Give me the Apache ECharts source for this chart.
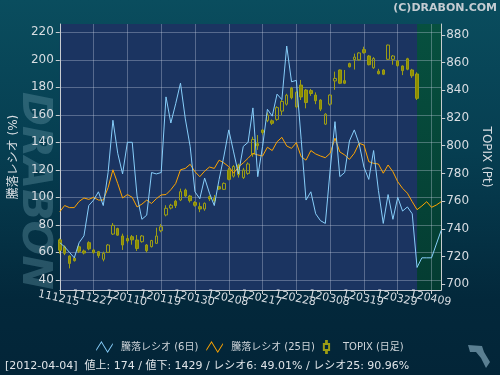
<!DOCTYPE html>
<html><head><meta charset="utf-8">
<script src="https://cdn.jsdelivr.net/npm/echarts@6/dist/echarts.min.js"></script>
<style>html,body{margin:0;padding:0;background:#042a3c}#c{width:500px;height:375px}</style>
</head><body><div id="c"></div>
<script>
const dates = ['111215','111216','111219','111220','111221','111222','111226','111227','111228','111229','111230',
'120104','120105','120106','120110','120111','120112','120113','120116','120117','120118','120119','120120','120123','120124','120125','120126','120127','120130','120131',
'120201','120202','120203','120206','120207','120208','120209','120210','120213','120214','120215','120216','120217','120220','120221','120222','120223','120224','120227','120228','120229',
'120301','120302','120305','120306','120307','120308','120309','120312','120313','120314','120315','120316','120319','120321','120322','120323','120326','120327','120328','120329','120330',
'120402','120403','120404','120405','120406','120409','120410','120411'];

const ratio6 = [67,64,60,56,67,72,94,98,104,94, 118,156,132,117,140,140,101,84,87,118,
 117,118,173,154,168,183,157,137,104,99, 114,103,94,113,130,149,133,117,137,140,
 165,115,137,164,159,175,171,210,184,185, 142,98,104,88,83,81,120,155,115,118,
 141,149,139,122,113,134,105,81,102,84, 100,90,93,88,49,56,56,56,66,76];

const ratio25 = [89.5,94,92.5,92.5,97,99.5,98.5,100,98,98,
 107,120,110,99.5,102,100,93,95,98,95.5,
 99,101.7,102,105.5,110,120,121,124,118.6,115,
 119,122,121,127,125,122.3,117.5,122,125,128.4,
 132,130.8,130,136.4,134,140.4,143.6,137.3,135.6,139.7,
 129.5,127,134,131.5,130,128.8,132,143,133,130.8,
 127.6,132,139.3,138,125.9,124.7,124.2,117.5,123.5,118.6,
 111.3,106.5,103,96.8,91,93.7,96.8,92.7,94.4,96.8];

// TOPIX daily: [open, close, low, high]
const topix = [
 [732,724.5,722,733],[727,722.3,721,728],[720.3,715,711.4,720.8],[718.8,717,716.3,719.5],[727,723.8,722.5,728.5],
 [724,722.5,721.5,725],[730,725.5,724.5,731],[724.7,722.8,722,725.5],[723.5,720.6,719,724],[718,722.3,716.5,723.5],
 [723,728.3,722.5,729],[736.2,742.5,735.5,744.2],[740.2,735.4,735,740.8],[734.8,728.3,724.7,736.5],[733,731.2,729.5,735.5],
 [734.3,732,728.5,735.5],[731.9,725.8,724,735.5],[730.7,734.8,730,735.5],[728.3,724.2,723,729],[727.1,731.5,726.5,732],
 [729.5,734.8,729,740.8],[738.6,741.5,737.5,743.4],[750,754.8,749,757],[755,757,754,758],[760,756.7,755,761],
 [760.8,766.8,760,769],[768,763.7,763,769],[763.7,760.3,759,764.5],[759,757,756,760],[756,754.3,752,759],
 [754.3,758.4,753,759],[763.2,761.5,760,764],[762,760.3,758.4,764.4],[770.4,768.7,768,771],[768.5,772.8,768,773.5],
 [782.5,775.7,775,784],[778,785,777,786],[786,779,777,787],[777,782.5,776,784],[780,786.8,779,788],
 [794,804.5,792,806.5],[801.5,800,797,807.7],[811.3,809.5,808,812],[818.3,822.2,817,824],[818,816.2,815,819],
 [819,827.5,818,828.5],[825,832,822,833],[830,836.5,829,837.5],[841.6,834.6,833.5,842.5],[828,838.6,827,839.5],
 [843.8,835.2,833,847.5],[840.2,831.2,827,841],[839.8,837.7,836,841],[836.6,832.5,830,838.5],[833,826.4,825,833.5],
 [815.6,822.8,815,823.5],[830,836.6,829,837],[846.8,848.6,840.4,853.5],[854.7,845.1,844.5,855],[847,845.1,844.5,854.7],
 [859.3,857,856.5,860],[862.2,864,855,866.5],[862,867,861.5,867.5],[869.4,867.2,866.5,871.5],[864.8,858.5,858,865.5],
 [856.3,863,855.5,864],[853.8,852,851.5,855.5],[854.7,851.6,851,855.3],[862.4,872.7,862,873],[862.4,864.8,858.5,865.5],
 [861.2,857.8,857,861.8],[857.6,854.2,851,858],[862.8,855.2,854.5,863.5],[854.7,850.5,849,855.5],[851.8,834.2,833,853]
];

const leftTicks = [40,60,80,100,120,140,160,180,200,220];
const rightTicks = [700,720,740,760,780,800,820,840,860,880];
const labelStep = 7;
const zoneStart = '120404';
const zoneEnd = '120411';
const footer = '[2012-04-04]  値上: 174 / 値下: 1429 / レシオ6: 49.01% / レシオ25: 90.96%';

const chart = echarts.init(document.getElementById('c'));
const txt = '#d8dde2';
const F = 'DejaVu Sans, Noto Sans CJK JP, sans-serif';
const xLabelBase = {rotate:-12, align:'center', verticalAlign:'top', margin:3, color:txt, fontSize:11, fontFamily:F, hideOverlap:false};
chart.setOption({
  animation: false,
  backgroundColor: new echarts.graphic.LinearGradient(0,0,0,1,[
    {offset:0,color:'#0a4d5e'},{offset:0.4,color:'#063e51'},{offset:0.8,color:'#03283b'},{offset:1,color:'#032538'}]),
  textStyle: {fontFamily: F},
  grid: {left:56, right:52, top:24, bottom:85, show:true, backgroundColor:'#1b3461', borderWidth:0},
  legend: {
    top: 335, left: 'center', itemGap: 8, itemWidth: 17, itemHeight: 12,
    textStyle: {color: '#cfd5da', fontSize: 10, fontFamily: F, padding:[0,0,0,3]},
    data: [
      {name:'騰落レシオ (6日)', icon:'path://M0,8 L5,0 L11,10 L16,2 L16,3.6 L11,11.6 L5,1.6 L0,9.6 Z'},
      {name:'騰落レシオ (25日)', icon:'path://M0,8 L5,0 L11,10 L16,2 L16,3.6 L11,11.6 L5,1.6 L0,9.6 Z'},
      {name:'TOPIX (日足)', icon:'path://M3,0 L4,0 L4,4 L7,4 L7,12 L4,12 L4,16 L3,16 L3,12 L0,12 L0,4 L3,4 Z'}
    ]
  },
  xAxis: [{
    type:'category', data: dates, boundaryGap:false, z:2, position:'bottom',
    axisLine:{lineStyle:{color:'#c8ccd0', width:1}},
    axisTick:{interval:labelStep-1, length:4, lineStyle:{color:'#c8ccd0'}},
    axisLabel:Object.assign({interval:(i)=> i % (labelStep*2) === 0}, xLabelBase),
    splitLine:{show:true, interval:labelStep-1, lineStyle:{color:'rgba(200,210,225,0.35)', width:1}}
  },{
    type:'category', data: dates, boundaryGap:false, z:2, position:'bottom',
    axisLine:{show:false}, axisTick:{show:false}, splitLine:{show:false},
    axisLabel:Object.assign({interval:(i)=> i % (labelStep*2) === labelStep}, xLabelBase)
  }],
  yAxis: [{
    type:'value', min:32.6, max:226, position:'left', z:2,
    name:'騰落レシオ (%)', nameLocation:'middle', nameGap:36,
    nameTextStyle:{color:txt, fontSize:12, fontFamily:F},
    axisLine:{show:true, lineStyle:{color:'#c8ccd0'}},
    axisTick:{show:true, length:4, customValues: leftTicks, lineStyle:{color:'#c8ccd0'}},
    axisLabel:{customValues: leftTicks, color:txt, fontSize:12, margin:6, fontFamily:F},
    splitLine:{show:true, lineStyle:{color:'rgba(200,210,225,0.35)', width:1}}
  },{
    type:'value', min:695.8, max:887.9, position:'right', z:2,
    name:'TOPIX (Pt)', nameLocation:'middle', nameGap:32, nameRotate:-90,
    nameTextStyle:{color:txt, fontSize:12, fontFamily:F},
    axisLine:{show:true, lineStyle:{color:'#c8ccd0'}},
    axisTick:{show:true, length:4, customValues: rightTicks, lineStyle:{color:'#c8ccd0'}},
    axisLabel:{customValues: rightTicks, color:txt, fontSize:12, margin:5, fontFamily:F},
    splitLine:{show:false}
  }],
  graphic: [
    {type:'text', right:3, top:3, style:{text:'(C)DRABON.COM', fill:'#c4ccd2', font:'bold 11px DejaVu Sans'}},
    {type:'text', x:13, y:92, rotation:-Math.PI/2, originX:0, originY:0, z:-1,
      style:{text:'DRABON', fill:'rgba(100,150,165,0.38)', font:'italic bold 41px DejaVu Sans', x:0, y:0, textAlign:'left', textVerticalAlign:'bottom'}},
    {type:'text', left:5, top:361, style:{text: footer, fill:'#dfe4e8', font:'11px DejaVu Sans, Noto Sans CJK JP'}},
    {type:'polygon', shape:{points:[[468,345],[482,346],[484,352],[490,362],[486,368],[481,358],[476,352],[470,352]]}, style:{fill:'#5a7f92'}}
  ],
  series: [
    {type:'line', name:'zone', data: dates.map(()=>null), z:1, silent:true, showSymbol:false,
      markArea:{silent:true, itemStyle:{color: new echarts.graphic.LinearGradient(0,0,0,1,[{offset:0,color:'#07503f'},{offset:1,color:'#043c32'}])},
        data:[[{xAxis: zoneStart},{xAxis: zoneEnd}]]}},
    {type:'candlestick', name:'TOPIX (日足)', yAxisIndex:1, data: topix, barWidth:3, z:3,
      itemStyle:{color:'rgba(0,0,0,0)', color0:'#8e8e00', borderColor:'#9d9d14', borderColor0:'#9d9d14', borderWidth:1}},
    {type:'line', name:'騰落レシオ (25日)', yAxisIndex:0, data: ratio25, showSymbol:false, z:4,
      color:'#ffa500', lineStyle:{width:1, color:'#ffa500'}},
    {type:'line', name:'騰落レシオ (6日)', yAxisIndex:0, data: ratio6, showSymbol:false, z:5,
      color:'#87cefa', lineStyle:{width:1, color:'#87cefa'}}
  ]
});
</script></body></html>
